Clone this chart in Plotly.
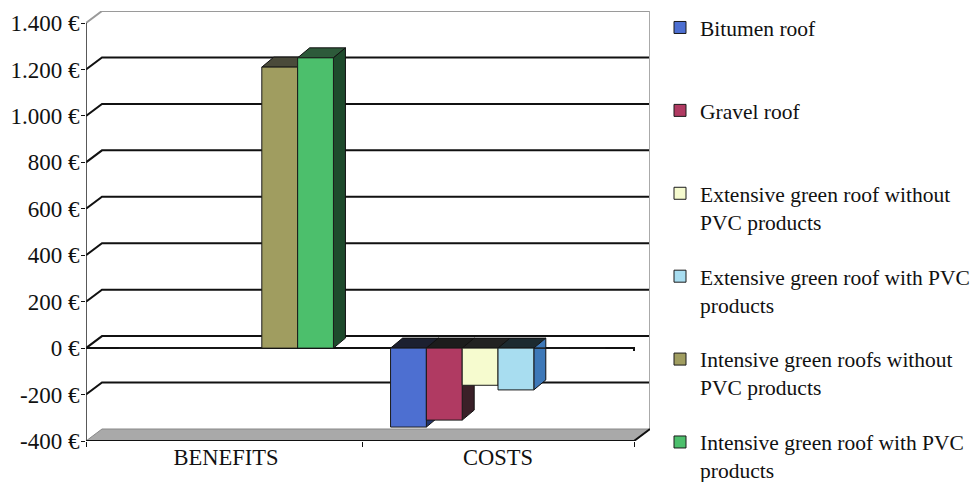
import plotly.graph_objects as go

# ---------------- data ----------------
categories = ["BENEFITS", "COSTS"]
series_names = [
    "Bitumen roof<br>&nbsp;",
    "Gravel roof<br>&nbsp;",
    "Extensive green roof without<br>PVC products",
    "Extensive green roof with PVC<br>products",
    "Intensive green roofs without<br>PVC products",
    "Intensive green roof with PVC<br>products",
]
bitumen = [0, -340]
gravel = [0, -310]
ext_without = [0, -160]
ext_with = [0, -180]
int_without = [1210, 0]
int_with = [1250, 0]
series_values = [bitumen, gravel, ext_without, ext_with, int_without, int_with]

tick_values = [-400, -200, 0, 200, 400, 600, 800, 1000, 1200, 1400]
tick_labels = ["-400 €", "-200 €", "0 €", "200 €", "400 €", "600 €",
               "800 €", "1.000 €", "1.200 €", "1.400 €"]

# ---------------- style ----------------
front_colors = ["#4d6fd1", "#b03a62", "#f6fbcf", "#a8ddf0", "#a09d60", "#4cbf6c"]
side_colors = ["#25356a", "#3a2028", "#6a6c50", "#3d78b8", "#4a4a30", "#1e4a2c"]
top_colors = ["#1c2030", "#1c1c1c", "#222222", "#1c2a30", "#4a4a3a", "#2d5a3a"]

W, H = 972, 482
ML, MR, MT, MB = 86, 322, 11, 41
plot_w = W - ML - MR
plot_h = H - MT - MB
wall_dx_px, wall_dy_px = 16, 12
bar_dx_px, bar_dy_px = 12, 10
shift_px = 4

x0, x1 = -0.5, len(categories) - 0.5
y0, y1 = tick_values[0], tick_values[-1]
ux = (x1 - x0) / (plot_w - wall_dx_px - shift_px)   # x units per pixel
uy = (y1 - y0) / (plot_h - wall_dy_px)              # y units per pixel
wdx, wdy = wall_dx_px * ux, wall_dy_px * uy
bdx, bdy = bar_dx_px * ux, bar_dy_px * uy
xa = x0 - shift_px * ux   # left edge of axis range (y axis line)

bargap = 0.21
n_series = len(series_values)
bw = (1 - bargap) / n_series

fig = go.Figure()
xs = list(range(len(categories)))
for name, vals, col in zip(series_names, series_values, front_colors):
    fig.add_trace(go.Bar(
        x=xs, y=vals, name=name,
        marker=dict(color=col, line=dict(color="#1a1a1a", width=1)),
        legendgroup=name,
    ))

shapes = []
# floor
shapes.append(dict(type="path", layer="below",
                   path=f"M{xa},{y0} L{x1},{y0} L{x1+wdx},{y0+wdy} L{xa+wdx},{y0+wdy} Z",
                   fillcolor="#a9a9a9", line=dict(color="#888888", width=1),
                   xref="x", yref="y"))
# back-wall gridlines
for v in tick_values[1:]:
    col = "#9a9a9a" if v == y1 else "#111111"
    shapes.append(dict(type="path", layer="below",
                       path=f"M{xa},{v} L{xa+wdx},{v+wdy} L{x1+wdx},{v+wdy}",
                       line=dict(color=col, width=2), xref="x", yref="y"))
# right wall edge
shapes.append(dict(type="line", layer="below", x0=x1 + wdx, x1=x1 + wdx,
                   y0=y0 + wdy, y1=y1 + wdy, line=dict(color="#aaaaaa", width=2),
                   xref="x", yref="y"))
# front zero line with small hook at the right end
shapes.append(dict(type="path", layer="below",
                   path=f"M{xa},0 L{x1},0 L{x1},{-3*uy}",
                   line=dict(color="#111111", width=2), xref="x", yref="y"))
# y axis line
shapes.append(dict(type="line", layer="below", x0=xa, x1=xa, y0=y0, y1=y1,
                   line=dict(color="#222222", width=1.5), xref="x", yref="y"))
# floor front edge
shapes.append(dict(type="path", layer="below",
                   path=f"M{xa},{y0} L{x1},{y0} L{x1+wdx},{y0+wdy}",
                   line=dict(color="#111111", width=2), xref="x", yref="y"))

# 3D faces of bars
for i, vals in enumerate(series_values):
    for j, v in enumerate(vals):
        if v == 0:
            continue
        xl = j - (1 - bargap) / 2 + i * bw
        xr = xl + bw
        top = max(v, 0)
        bot = min(v, 0)
        shapes.append(dict(type="path", layer="below",
                           path=f"M{xl},{top} L{xr},{top} L{xr+bdx},{top+bdy} L{xl+bdx},{top+bdy} Z",
                           fillcolor=top_colors[i], line=dict(color="#111111", width=1),
                           xref="x", yref="y"))
        shapes.append(dict(type="path", layer="below",
                           path=f"M{xr},{bot} L{xr},{top} L{xr+bdx},{top+bdy} L{xr+bdx},{bot+bdy} Z",
                           fillcolor=side_colors[i], line=dict(color="#111111", width=1),
                           xref="x", yref="y"))

fig.update_layout(
    width=W, height=H,
    margin=dict(l=ML, r=MR, t=MT, b=MB, pad=0, autoexpand=False),
    paper_bgcolor="white", plot_bgcolor="white",
    barmode="group", bargap=bargap, bargroupgap=0,
    shapes=shapes,
    font=dict(family="Liberation Serif", size=22, color="#111111"),
    xaxis=dict(range=[xa, x1 + wdx], tickvals=xs, ticktext=categories,
               showgrid=False, zeroline=False, showline=False, ticks="",
               tickfont=dict(size=22.5),
               minor=dict(tickvals=[xa, 0.5, x1], ticks="outside", ticklen=5,
                          tickcolor="#111111", showgrid=False)),
    yaxis=dict(range=[y0, y1 + wdy], tickvals=tick_values, ticktext=tick_labels,
               showgrid=False, zeroline=False, showline=False,
               ticks="outside", ticklen=4, tickcolor="#111111",
               ticklabelstandoff=-3,
               tickfont=dict(size=23)),
    legend=dict(x=(660 - ML) / plot_w, xanchor="left", y=1 + 4 / plot_h, yanchor="top",
                valign="top", tracegroupgap=24, traceorder="grouped",
                maxheight=H,
                font=dict(family="Liberation Serif", size=21.5, color="#111111"),
                bgcolor="rgba(0,0,0,0)"),
    showlegend=True,
)

fig.write_html("out.html")
